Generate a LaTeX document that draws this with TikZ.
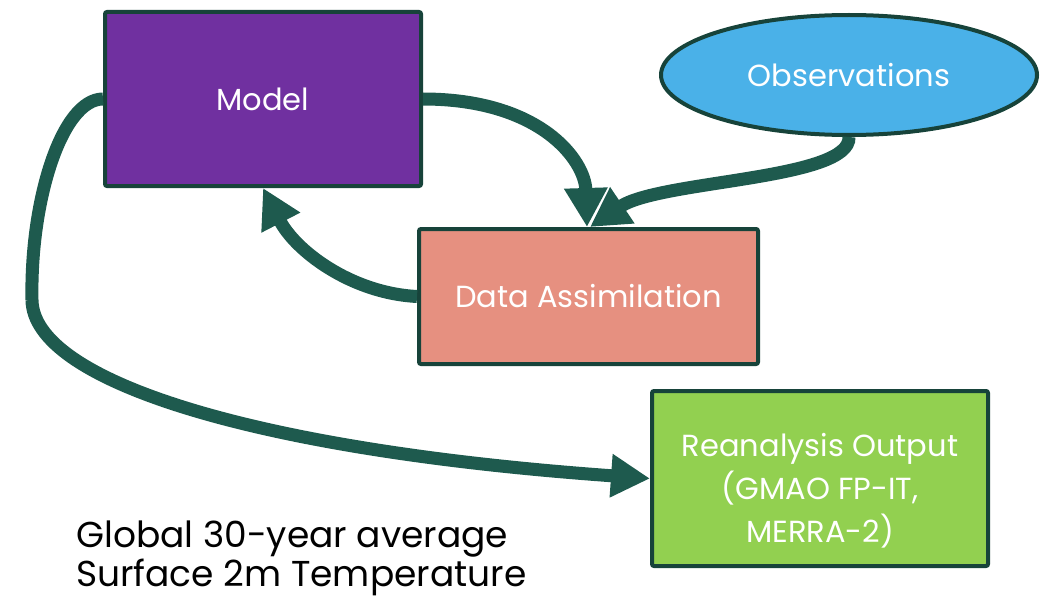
\documentclass[tikz,border=0pt]{standalone}
\usepackage{fontspec}
\setmainfont{Poppins}
\usetikzlibrary{arrows.meta,shapes.geometric,calc}

\definecolor{edgegreen}{HTML}{17433A}
\definecolor{flowgreen}{HTML}{1E5A4E}
\definecolor{modelpurple}{HTML}{7030A0}
\definecolor{obsblue}{HTML}{4AB1E8}
\definecolor{dasalmon}{HTML}{E69080}
\definecolor{outgreen}{HTML}{92D050}

\tikzset{
  block/.style={draw=edgegreen, line width=4pt, rounded corners=2pt,
    text=white, align=center, inner sep=0pt},
  flow/.style={draw=flowgreen, line width=13pt,
    -{Triangle[length=39pt,width=41pt]}},
  boxfont/.style={font=\fontsize{30.5}{43}\selectfont},
}

\begin{document}
\begin{tikzpicture}[x=1pt,y=-1pt]
  \useasboundingbox (0,0) rectangle (1051,599);

  % boxes
  \node[block, boxfont, fill=modelpurple, minimum width=316pt, minimum height=174pt]
    (model) at (263,99) {Model};
  \node[block, boxfont, fill=dasalmon, minimum width=339pt, minimum height=135pt]
    (da) at (588.5,296.5) {Data Assimilation};
  % the strut on the first line pushes the three lines a little lower in the box
  \node[block, boxfont, fill=outgreen, minimum width=336pt, minimum height=175pt]
    (out) at (820,478.5) {\rule{0pt}{48pt}Reanalysis Output\\(GMAO FP-IT,\\MERRA-2)};
  \node[block, boxfont, ellipse, fill=obsblue, minimum width=376pt, minimum height=120pt]
    (obs) at (849,75) {Observations};

  % caption
  \node[anchor=north west, align=left, inner sep=0pt,
        font=\fontsize{36}{37}\selectfont] (cap) at (76,521)
    {Global 30-year average\\Surface 2m Temperature};

  % flows
  \coordinate (bend) at (32,300);
  \draw[flow] (model.east) .. controls (540,99) and (585,160) .. ($(da.north)+(-1.5,0)$);
  \draw[flow] (obs.south) .. controls (851,180) and (660,180) .. ($(da.north)+(1.5,0)$);
  \draw[flow] (da.west) .. controls (350,293) and (295,250) .. (model.south);
  \draw[flow, -] (model.west) .. controls (62,99) and (30,200) .. (bend);
  \draw[flow] (bend) .. controls (33,380) and (250,450) .. (out.west);
\end{tikzpicture}
\end{document}
